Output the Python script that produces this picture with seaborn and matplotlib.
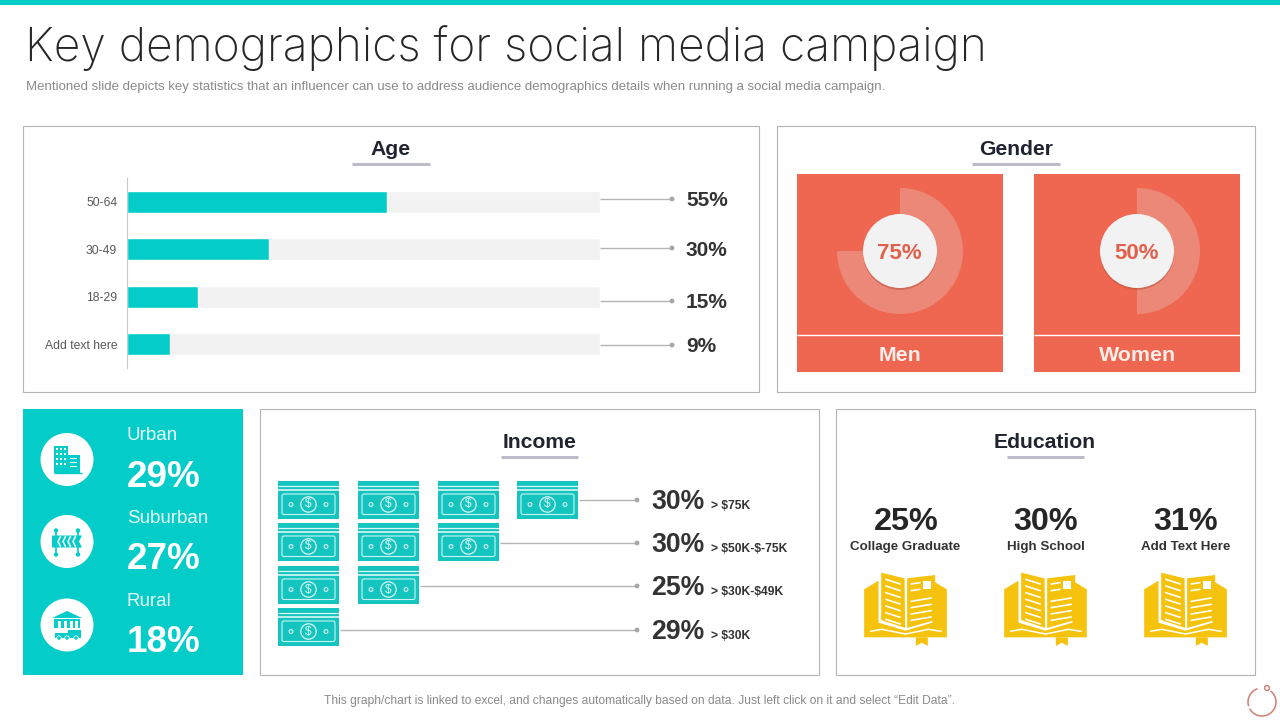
import matplotlib
matplotlib.use("Agg")
import matplotlib.pyplot as plt
import numpy as np
import seaborn as sns
import pandas as pd
from matplotlib.patches import Rectangle, Circle, Polygon, FancyBboxPatch

# ---------- data ----------
title_text = "Key demographics for social media campaign"
subtitle_text = ("Mentioned slide depicts key statistics that an influencer can use to address "
                 "audience demographics details when running a social media campaign.")
footer_text = ("This graph/chart is linked to excel, and changes automatically based on data. "
               "Just left click on it and select \u201cEdit Data\u201d.")
age_groups = ["50-64", "30-49", "18-29", "Add text here"]
age_values = [55, 30, 15, 9]
gender_labels = ["Men", "Women"]
gender_values = [75, 50]
area_labels = ["Urban", "Suburban", "Rural"]
area_values = [29, 27, 18]
income_labels = ["> $75K", "> $50K-$-75K", "> $30K-$49K", "> $30K"]
income_values = [30, 30, 25, 29]
income_icons = [4, 3, 2, 1]
edu_labels = ["Collage Graduate", "High School", "Add Text Here"]
edu_values = [25, 30, 31]

TEAL = "#03CCC9"
TEAL2 = "#14C4BE"
RED = "#EF6750"
RED_L = "#EC8877"
YEL = "#F5C20E"
GREY = "#B4B4B4"
INK = "#262626"
UL = "#BDBBC9"
FONT = ["Liberation Sans", "DejaVu Sans"]

sns.set_theme(style="white")
plt.rcParams["font.family"] = FONT

W, H = 1280, 720
fig = plt.figure(figsize=(W / 100, H / 100), dpi=100, facecolor="white")
bg = fig.add_axes([0, 0, 1, 1], zorder=0)
bg.set_xlim(0, W)
bg.set_ylim(H, 0)
bg.axis("off")


def px_axes(l, t, r, b, z=2):
    return fig.add_axes([l / W, 1 - b / H, (r - l) / W, (b - t) / H], zorder=z)


def rect(x0, y0, x1, y1, fc="none", ec="none", lw=0, z=1):
    bg.add_patch(Rectangle((x0, y0), x1 - x0, y1 - y0, fc=fc, ec=ec, lw=lw, zorder=z))


def txt(x, y, s, size, color=INK, weight="normal", ha="left", **kw):
    # y is the middle of the capital letters, so descenders do not shift the text
    bg.text(x, y + 0.5 * size - 1, s, fontsize=size, color=color, fontweight=weight, ha=ha, va="baseline",
            zorder=6, **kw)


def hline(x0, x1, y, color=GREY, lw=1.0, z=2):
    bg.plot([x0, x1], [y, y], color=color, lw=lw, zorder=z, solid_capstyle="butt")


# ---------- header / frames ----------
rect(0, 0, W, 5, fc=TEAL)
bg.text(25, 61, title_text, fontsize=33.2, color="#262626", family=["Inter", "DejaVu Sans"],
        fontweight="light", ha="left", va="baseline", zorder=6)
txt(26, 86, subtitle_text, 9.5, color="#8A8A8A")
txt(639.5, 701, footer_text, 8.66, color="#8A8A8A", ha="center")

for x0, y0, x1, y1 in [(23, 126, 759, 392), (777, 126, 1255, 392),
                       (260, 409, 819, 675), (836, 409, 1255, 675)]:
    rect(x0, y0, x1, y1, fc="white", ec=GREY, lw=0.8)
rect(23, 409, 243, 675, fc=TEAL)

for cx, y, s, x0, x1 in [(391, 148.5, "Age", 352, 430), (1016, 148.5, "Gender", 972, 1060),
                         (540, 441.5, "Income", 501, 578), (1045, 441.5, "Education", 1007, 1084)]:
    txt(cx, y, s, 15.2, weight="bold", ha="center", color="#1F2430")
    hline(x0, x1, y + 15.5, color=UL, lw=2.2)

# ---------- Age ----------
df_age = pd.DataFrame({"group": age_groups, "value": age_values, "full": [100] * len(age_values)})
ax = px_axes(127, 178, 600, 368)
ax.patch.set_alpha(0)
sns.barplot(data=df_age, y="group", x="full", color="#F2F2F2", width=0.47, saturation=1, ax=ax)
sns.barplot(data=df_age, y="group", x="value", color=TEAL, width=0.47, saturation=1, ax=ax)
ax.set_xlim(0, 100)
ax.set_ylim(3.5, -0.5)
ax.set_xlabel("")
ax.set_ylabel("")
ax.set_xticks([])
ax.tick_params(axis="y", length=0, pad=7.0, labelsize=8.7, labelcolor="#595959")
for s in ["top", "right", "bottom"]:
    ax.spines[s].set_visible(False)
ax.spines["left"].set_color("#C8C8C8")
ax.spines["left"].set_linewidth(0.8)

for y_line, y_txt, v in zip([199, 248, 301, 345], [200, 249, 302, 345], age_values):
    hline(600, 671, y_line, color="#B5B5B5")
    bg.add_patch(Circle((672, y_line), 2.4, fc="#A6A6A6", ec="none", zorder=3))
    txt(686, y_txt, f"{v}%", 15, color="#333333", weight="bold")

# ---------- Gender ----------
for x0, label, v in zip([797, 1034], gender_labels, gender_values):
    x1 = x0 + 206
    cx = x0 + 103
    rect(x0, 174, x1, 372, fc=RED)
    hline(x0, x1, 335, color="white", lw=1.0, z=3)
    txt(cx + 0.5, 354, label, 15.4, color="#FBEDE9", weight="bold", ha="center")
    a = px_axes(cx - 63, 188, cx + 63, 314, z=3)
    a.pie([v, 100 - v], colors=[RED_L, (0, 0, 0, 0)], startangle=90, counterclock=False, radius=1,
          wedgeprops={"linewidth": 0})
    a.set_xlim(-1, 1)
    a.set_ylim(-1, 1)
    a.axis("off")
    a.patch.set_alpha(0)
    a.add_patch(Circle((0, -0.03), 37 / 63, fc="#B9523F", ec="none", alpha=0.55, zorder=4))
    a.add_patch(Circle((0, 0), 37 / 63, fc="#F2F2F2", ec="none", zorder=5))
    a.text(-0.01, -0.125, f"{v}%", fontsize=16, color="#E2604B", fontweight="bold",
           ha="center", va="baseline", zorder=6)


# ---------- Area panel ----------
def icon_building(c):
    rect(c[0] - 13, c[1] - 14, c[0] + 1, c[1] + 13, fc=TEAL, z=4)
    rect(c[0] + 1, c[1] - 5, c[0] + 13, c[1] + 13, fc=TEAL, z=4)
    for i in range(4):
        for j in range(3):
            rect(c[0] - 11.5 + j * 4, c[1] - 12 + i * 5, c[0] - 9.5 + j * 4, c[1] - 9.5 + i * 5, fc="white", z=5)
    for i in range(3):
        rect(c[0] + 3, c[1] - 2 + i * 4, c[0] + 10, c[1] - 0.6 + i * 4, fc="white", z=5)
    hline(c[0] - 13, c[0] + 15, c[1] + 13, color=TEAL, lw=1, z=5)


def icon_barrier(c):
    for dx in (-11, 11):
        hline_x = c[0] + dx
        bg.plot([hline_x, hline_x], [c[1] - 11, c[1] + 13], color=TEAL, lw=1.2, zorder=4)
        bg.add_patch(Circle((hline_x, c[1] - 11), 2.2, fc=TEAL, ec="none", zorder=4))
        bg.add_patch(Circle((hline_x, c[1] + 13), 2.2, fc=TEAL, ec="none", zorder=4))
    bg.add_patch(Polygon([(c[0] - 15, c[1] - 6), (c[0] + 15, c[1] - 6), (c[0] + 12, c[1]), (c[0] + 15, c[1] + 6),
                          (c[0] - 15, c[1] + 6)], fc=TEAL, ec="none", zorder=4))
    for i in range(4):
        dx = c[0] - 9 + i * 5
        bg.plot([dx + 2.5, dx, dx + 2.5], [c[1] - 5, c[1], c[1] + 5], color="white", lw=1.1, zorder=5)


def icon_house(c):
    bg.add_patch(Polygon([(c[0] - 15, c[1] - 7), (c[0], c[1] - 14), (c[0] + 15, c[1] - 7)], fc=TEAL, ec="none", zorder=4))
    rect(c[0] - 13, c[1] - 6, c[0] + 13, c[1] + 3, fc=TEAL, z=4)
    for dx in (-9, -3, 3, 8):
        rect(c[0] + dx, c[1] - 4, c[0] + dx + 2.5, c[1] + 3, fc="white", z=5)
    rect(c[0] - 12, c[1] + 8, c[0] + 2, c[1] + 13, fc=TEAL, z=4)
    rect(c[0] + 1, c[1] + 5, c[0] + 14, c[1] + 13, fc=TEAL, z=4)
    for dx in (-8, 0, 9):
        bg.add_patch(Circle((c[0] + dx, c[1] + 13), 2.2, fc=TEAL, ec="white", lw=0.6, zorder=5))


icons = [icon_building, icon_barrier, icon_house]
for cy, y_lab, y_val, lab, v, ic in zip([459.5, 541.5, 625], [434.5, 517.5, 600], [474.5, 557, 640],
                                        area_labels, area_values, icons):
    bg.add_patch(Circle((67, cy), 26.5, fc="white", ec="none", zorder=3))
    ic((67, cy))
    txt(127, y_lab, lab, 13.5, color="#E6FBFA")
    txt(127, y_val, f"{v}%", 26.6, color="white", weight="bold")


# ---------- Income ----------
def money(x, y):
    w = 61
    h = 38
    rect(x, y, x + w, y + h, fc=TEAL2, z=3)
    hline(x, x + w, y + 4.5, color="#D8F7F6", lw=0.9, z=4)
    hline(x, x + w, y + 8.5, color="#D8F7F6", lw=1.2, z=4)
    bg.add_patch(FancyBboxPatch((x + 4, y + 13), w - 8, h - 17.5, boxstyle="round,pad=0,rounding_size=2",
                                fc="none", ec="#C9F6F4", lw=0.8, zorder=4))
    bg.add_patch(Circle((x + w / 2, y + 23.5), 7.7, fc="none", ec="#D8F7F6", lw=0.9, zorder=4))
    bg.text(x + w / 2, y + 23.5, "\\$", fontsize=8.5, color="#D8F7F6", ha="center", va="center", zorder=5)
    for dx in (13, w - 13):
        bg.add_patch(Circle((x + dx, y + 23.5), 1.9, fc="none", ec="#D8F7F6", lw=0.8, zorder=4))


col_x = [278, 358, 438, 517]
row_y = [481, 523, 566, 608]
line_y = [500, 543, 586, 630]
for ry, ly, n, v, lab in zip(row_y, line_y, income_icons, income_values, income_labels):
    for k in range(n):
        money(col_x[k], ry)
    hline(col_x[n - 1] + 61.5, 636, ly, color="#B5B5B5")
    bg.add_patch(Circle((637, ly), 2.4, fc="#A6A6A6", ec="none", zorder=3))
    txt(651, ly + 0.5, f"{v}%", 19.2, color="#333333", weight="bold")
    txt(711, ly + 6, lab.replace("$", "\\$"), 8.75, color="#333333", weight="bold")


# ---------- Education ----------
def book(cx, top):
    def P(pts, fc=YEL, z=3):
        bg.add_patch(Polygon([(cx + (a - 181) / 3, top + (b - 36) / 3) for a, b in pts], fc=fc, ec="none", zorder=z))

    def L(a0, b0, a1, b1, lw=1.2):
        bg.plot([cx + (a0 - 181) / 3, cx + (a1 - 181) / 3], [top + (b0 - 36) / 3, top + (b1 - 36) / 3],
                color="white", lw=lw, zorder=5, solid_capstyle="round")

    P([(57, 88), (100, 62), (100, 188), (181, 212), (262, 188), (262, 62), (305, 88), (305, 232), (57, 232)])
    P([(108, 38), (178, 55), (180, 204), (108, 180)], z=4)
    P([(186, 55), (270, 45), (270, 180), (186, 204)], z=4)
    L(76, 214, 110, 208, 1.1)
    L(110, 208, 181, 222, 1.1)
    L(181, 222, 250, 208, 1.1)
    L(250, 208, 288, 214, 1.1)
    for i in range(7):
        L(122, 58 + i * 20, 165, 72 + i * 20)
    for i in range(4):
        L(198, 132 + i * 19 - 8, 258, 122 + i * 19 - 8)
    L(198, 72, 224, 68)
    L(198, 92, 224, 88)
    P([(232, 62), (258, 62), (258, 88), (232, 88)], fc="white", z=5)
    P([(212, 232), (248, 232), (248, 258), (230, 248), (212, 258)], z=4)


for cx, v, lab in zip([906, 1046, 1186], edu_values, edu_labels):
    txt(cx, 519.5, f"{v}%", 23.3, color="#262626", weight="bold", ha="center")
    txt(cx - 0.5, 546, lab, 9.6, color="#333333", weight="bold", ha="center")
    book(cx - 0.5, 572)

# ---------- logo ----------
for a0, a1 in [(-50, 150), (165, 250)]:
    t = np.deg2rad(np.arange(a0, a1 + 1, 4))
    bg.plot(1262 + 14 * np.cos(t), 702 + 14 * np.sin(t), color="#D07E74", lw=1.1, zorder=4)
bg.add_patch(Circle((1267, 688), 2.4, fc="none", ec="#D07E74", lw=1, zorder=4))

fig.savefig("out.png", dpi=100, facecolor="white")
